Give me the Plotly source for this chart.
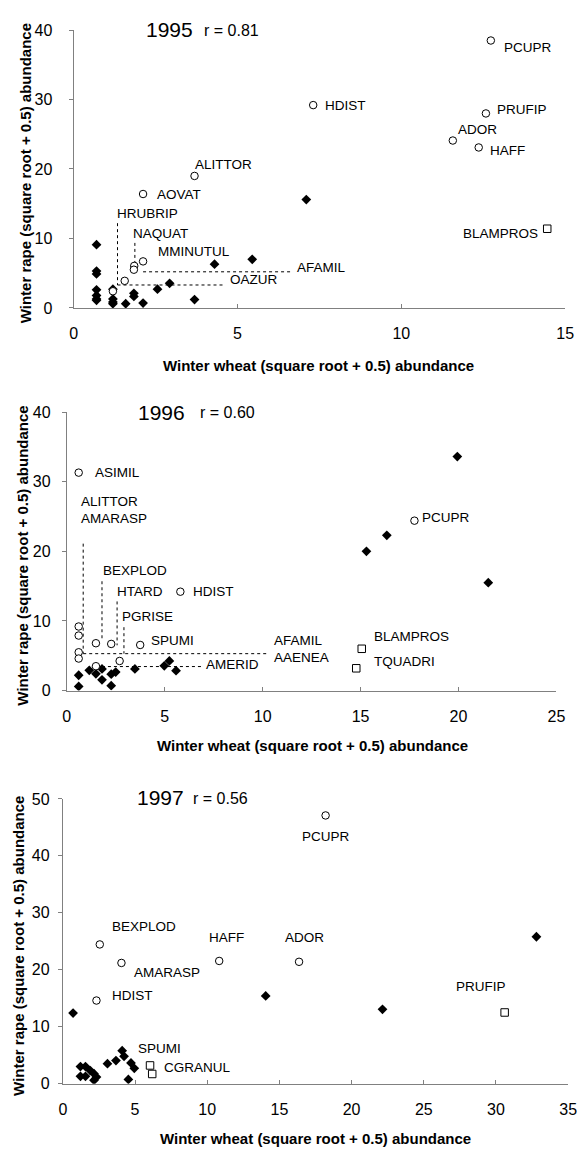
import plotly.graph_objects as go

# page is drawn with an 8px body margin, so the figure is shrunk and shifted
OFF = 8
W, H = 585 - OFF, 1157 - OFF
FONT = "Liberation Sans, Arial, sans-serif"

# ---------------- 1995 ----------------
c95_names = ["PCUPR", "HDIST", "PRUFIP", "ADOR", "HAFF", "ALITTOR", "AOVAT",
             "MMINUTUL", "NAQUAT", "AFAMIL", "OAZUR", "HRUBRIP"]
c95_x = [12.73, 7.31, 12.58, 11.57, 12.36, 3.69, 2.12, 2.12, 1.85, 1.84, 1.56, 1.2]
c95_y = [38.5, 29.2, 28.0, 24.1, 23.1, 19.0, 16.4, 6.7, 6.05, 5.5, 3.9, 2.4]
d95_x = [7.1, 0.7, 0.7, 0.7, 0.7, 0.7, 0.7, 0.7, 1.2, 1.2, 1.2, 1.2, 1.59,
         1.84, 1.84, 2.12, 2.56, 2.93, 3.69, 4.3, 5.45]
d95_y = [15.6, 9.1, 5.3, 4.9, 2.6, 1.8, 1.3, 1.1, 2.7, 1.3, 0.85, 0.6, 0.6,
         2.1, 1.65, 0.7, 2.7, 3.55, 1.2, 6.3, 7.0]
s95_names = ["BLAMPROS"]
s95_x = [14.45]
s95_y = [11.4]

# ---------------- 1996 ----------------
c96_names = ["ASIMIL", "PCUPR", "HDIST", "ALITTOR", "AMARASP", "AFAMIL", "AAENEA",
             "BEXPLOD", "HTARD", "SPUMI", "AMERID", "PGRISE"]
c96_x = [0.61, 17.75, 5.8, 0.61, 0.61, 0.61, 0.61, 1.49, 2.27, 3.75, 1.49, 2.7]
c96_y = [31.3, 24.4, 14.2, 9.2, 7.9, 5.5, 4.6, 6.8, 6.7, 6.55, 3.5, 4.25]
d96_x = [19.94, 16.34, 15.3, 21.52, 0.61, 0.61, 1.15, 1.49, 1.8, 1.8, 2.27,
         2.27, 2.5, 3.48, 4.98, 5.24, 5.58]
d96_y = [33.6, 22.3, 20.0, 15.5, 2.2, 0.6, 2.9, 2.4, 3.1, 1.55, 0.7,
         2.35, 2.65, 3.1, 3.55, 4.25, 2.85]
s96_names = ["BLAMPROS", "TQUADRI"]
s96_x = [15.06, 14.78]
s96_y = [6.0, 3.2]

# ---------------- 1997 ----------------
c97_names = ["PCUPR", "BEXPLOD", "AMARASP", "HAFF", "ADOR", "HDIST"]
c97_x = [18.2, 2.56, 4.06, 10.83, 16.36, 2.33]
c97_y = [47.1, 24.45, 21.2, 21.55, 21.4, 14.6]
d97_x = [32.8, 14.05, 22.14, 0.71, 4.11, 4.24, 4.72, 4.95, 3.68, 3.09, 4.54,
         1.22, 1.57, 1.22, 1.57, 1.9, 2.16, 2.33, 2.16]
d97_y = [25.8, 15.4, 13.05, 12.4, 5.8, 4.8, 3.65, 2.7, 4.05, 3.5, 0.75,
         3.0, 3.0, 1.3, 1.3, 2.3, 1.75, 1.15, 0.6]
s97_names = ["CGRANUL", "", "PRUFIP"]
s97_x = [6.04, 6.19, 30.6]
s97_y = [3.2, 1.7, 12.5]

years = ["1995", "1996", "1997"]
r_values = ["r = 0.81", "r = 0.60", "r = 0.56"]
x_max = [15, 25, 35]
y_max = [40, 40, 50]

# label placement: (text, x, y, anchor)
labels95 = [("PCUPR", 13.06, 37.5, "left"), ("HDIST", 7.6, 29.2, "left"),
            ("PRUFIP", 12.86, 28.5, "left"), ("ADOR", 11.67, 25.7, "left"),
            ("HAFF", 12.65, 22.6, "left"), ("ALITTOR", 3.64, 20.7, "left"),
            ("AOVAT", 2.49, 16.4, "left"), ("HRUBRIP", 1.26, 13.6, "left"),
            ("NAQUAT", 1.75, 10.7, "left"), ("MMINUTUL", 2.5, 8.1, "left"),
            ("AFAMIL", 6.76, 5.8, "left"), ("OAZUR", 4.7, 4.1, "left"),
            ("BLAMPROS", 14.23, 10.7, "right")]
labels96 = [("ASIMIL", 1.36, 31.3, "left"), ("ALITTOR", 0.65, 27.2, "left"),
            ("AMARASP", 0.65, 24.7, "left"), ("BEXPLOD", 1.77, 17.2, "left"),
            ("HTARD", 2.47, 14.3, "left"), ("HDIST", 6.32, 14.3, "left"),
            ("PGRISE", 2.73, 10.7, "left"), ("SPUMI", 4.2, 7.2, "left"),
            ("AFAMIL", 10.5, 7.2, "left"), ("AAENEA", 10.5, 4.8, "left"),
            ("AMERID", 6.99, 3.7, "left"), ("BLAMPROS", 15.58, 7.7, "left"),
            ("TQUADRI", 15.58, 4.15, "left"), ("PCUPR", 18.03, 24.8, "left")]
labels97 = [("PCUPR", 18.2, 43.4, "center"), ("BEXPLOD", 3.25, 27.6, "left"),
            ("AMARASP", 4.82, 19.6, "left"), ("HDIST", 3.25, 15.4, "left"),
            ("HAFF", 9.97, 25.7, "left"), ("ADOR", 15.27, 25.7, "left"),
            ("PRUFIP", 27.1, 17.05, "left"), ("SPUMI", 5.07, 6.2, "left"),
            ("CGRANUL", 6.9, 2.9, "left")]

# leader lines (x0, y0, x1, y1)
lines95 = [(1.34, 12.2, 1.34, 3.3), (1.34, 3.3, 4.57, 3.3),
           (1.87, 9.36, 1.87, 6.5), (2.12, 5.2, 6.68, 5.2)]
lines96 = [(0.84, 21.1, 0.84, 5.3), (0.84, 5.3, 10.3, 5.3),
           (1.8, 15.7, 1.8, 7.5), (2.57, 12.8, 2.57, 6.5),
           (2.92, 9.1, 2.92, 5.3), (1.49, 3.45, 6.88, 3.45)]
lines97 = []

# year / r text positions in data units of each panel
title_pos = [(2.15, 40.1, 3.92, 39.9), (3.55, 40.0, 6.69, 40.0), (5.0, 50.3, 8.88, 50.0)]

# pixel layout of each plot area on the page: (left, right, top, bottom)
areas = [(71, 574, 22.3, 304.3), (64, 565, 410, 692.7), (60, 577, 802.7, 1091.7)]
ytitle_px = [(22, 168), (19, 556), (14, 952)]
xtitle_px = [(322, 363), (315, 748), (318, 1147)]
ystandoff = [13, 8, 5]


def px_x(px):
    return (px - OFF) / W


def px_y(py):
    return 1 - (py - OFF) / H


panels = [
    (c95_x, c95_y, d95_x, d95_y, s95_x, s95_y, labels95, lines95),
    (c96_x, c96_y, d96_x, d96_y, s96_x, s96_y, labels96, lines96),
    (c97_x, c97_y, d97_x, d97_y, s97_x, s97_y, labels97, lines97),
]

fig = go.Figure()
annotations = []
shapes = []
AX = "#808080"

for i, (cx, cy, dx, dy, sx, sy, labs, lns) in enumerate(panels):
    n = "" if i == 0 else str(i + 1)
    xa, ya = "x" + n, "y" + n
    fig.add_trace(go.Scatter(x=dx, y=dy, mode="markers", xaxis=xa, yaxis=ya,
                             marker=dict(symbol="diamond", size=7.5, color="black",
                                         line=dict(width=0)), showlegend=False))
    fig.add_trace(go.Scatter(x=cx, y=cy, mode="markers", xaxis=xa, yaxis=ya,
                             marker=dict(symbol="circle", size=7.5, color="white",
                                         line=dict(width=1, color="black")),
                             showlegend=False))
    fig.add_trace(go.Scatter(x=sx, y=sy, mode="markers", xaxis=xa, yaxis=ya,
                             marker=dict(symbol="square", size=7.5, color="white",
                                         line=dict(width=1, color="black")),
                             showlegend=False))
    for (t, x, y, anc) in labs:
        annotations.append(dict(text=t, x=x, y=y, xref=xa, yref=ya, showarrow=False,
                                xanchor=anc, yanchor="middle",
                                font=dict(family=FONT, size=13.5, color="black")))
    for (x0, y0, x1, y1) in lns:
        shapes.append(dict(type="line", x0=x0, y0=y0, x1=x1, y1=y1, xref=xa, yref=ya,
                           layer="below", line=dict(color="black", width=1, dash="dot")))
    l, r, t, b = areas[i]
    yx, yy, rx, ry = title_pos[i]
    annotations.append(dict(text=years[i], x=yx, y=px_y(b - yy / y_max[i] * (b - t)),
                            xref=xa, yref="paper", showarrow=False,
                            xanchor="left", yanchor="middle",
                            font=dict(family=FONT, size=21, color="black")))
    annotations.append(dict(text=r_values[i], x=rx, y=px_y(b - ry / y_max[i] * (b - t)),
                            xref=xa, yref="paper", showarrow=False,
                            xanchor="left", yanchor="middle",
                            font=dict(family=FONT, size=16, color="black")))
    xdom = [px_x(l), px_x(r)]
    ydom = [px_y(b), px_y(t)]
    fig.update_layout(**{
        "xaxis" + n: dict(domain=xdom, range=[0, x_max[i]], anchor=ya, dtick=5, tick0=0,
                          showline=True, linecolor=AX, linewidth=1, ticks="inside",
                          ticklen=4, tickcolor=AX, showgrid=False, zeroline=False,
                          ticklabelstandoff=11,
                          tickfont=dict(family=FONT, size=16, color="black")),
        "yaxis" + n: dict(domain=ydom, range=[0, y_max[i]], anchor=xa, dtick=10, tick0=0,
                          showline=True, linecolor=AX, linewidth=1, ticks="outside",
                          ticklen=4, tickcolor=AX, showgrid=False, zeroline=False,
                          ticklabelstandoff=ystandoff[i],
                          tickfont=dict(family=FONT, size=16, color="black")),
    })
    tx, ty = ytitle_px[i]
    annotations.append(dict(text="<b>Winter rape (square root + 0.5) abundance</b>",
                            x=px_x(tx), y=px_y(ty), xref="paper", yref="paper",
                            showarrow=False, textangle=-90, xanchor="center",
                            yanchor="middle",
                            font=dict(family=FONT, size=15, color="black")))
    tx, ty = xtitle_px[i]
    annotations.append(dict(text="<b>Winter wheat (square root + 0.5) abundance</b>",
                            x=px_x(tx), y=px_y(ty), xref="paper", yref="paper",
                            showarrow=False, xanchor="center", yanchor="middle",
                            font=dict(family=FONT, size=15, color="black")))

fig.update_layout(width=W, height=H, margin=dict(l=0, r=0, t=0, b=0),
                  paper_bgcolor="white", plot_bgcolor="white",
                  annotations=annotations, shapes=shapes, showlegend=False)

fig.write_html("out.html")
